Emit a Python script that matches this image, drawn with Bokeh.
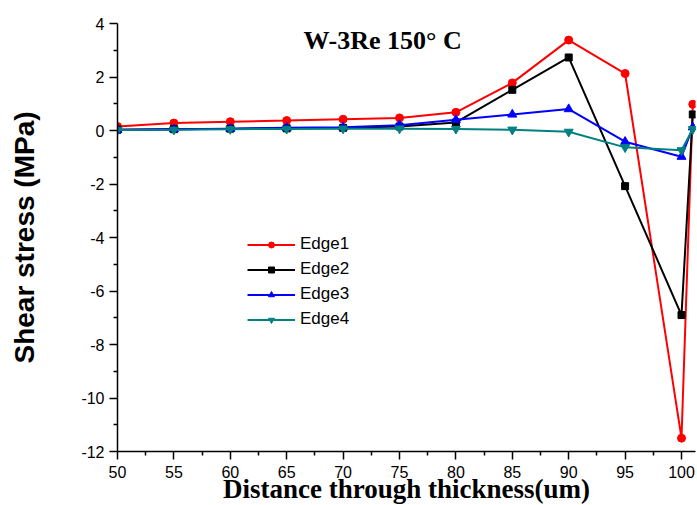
from bokeh.plotting import figure
from bokeh.models import Range1d, Label, Legend, LegendItem, FixedTicker, PrintfTickFormatter
from bokeh.embed import file_html
from bokeh.resources import INLINE

x = [50, 55, 60, 65, 70, 75, 80, 85, 90, 95, 100, 101]
edge1 = [0.15, 0.28, 0.33, 0.37, 0.42, 0.47, 0.68, 1.78, 3.38, 2.13, -11.5, 0.98]
edge2 = [0.03, 0.05, 0.07, 0.08, 0.10, 0.15, 0.30, 1.52, 2.73, -2.08, -6.9, 0.60]
edge3 = [0.03, 0.05, 0.07, 0.10, 0.12, 0.20, 0.40, 0.60, 0.80, -0.42, -0.98, 0.12]
edge4 = [0.02, 0.03, 0.05, 0.06, 0.07, 0.07, 0.06, 0.03, -0.05, -0.63, -0.74, 0.05]

x_ticks = [50, 55, 60, 65, 70, 75, 80, 85, 90, 95, 100]
y_ticks = [-12, -10, -8, -6, -4, -2, 0, 2, 4]

title_text = "W-3Re 150° C"
x_label = "Distance through thickness(um)"
y_label = "Shear stress (MPa)"

p = figure(width=697, height=505, output_backend="svg", toolbar_location=None,
           frame_width=578, frame_height=428,
           x_range=Range1d(50, 50 + 578 / 11.28), y_range=Range1d(-12, 4))
p.min_border_left = 117
p.min_border_right = 2
p.min_border_top = 23
p.min_border_bottom = 54
p.outline_line_color = None
p.xgrid.visible = False
p.ygrid.visible = False
p.background_fill_color = "white"
p.border_fill_color = "white"

for ax in (p.xaxis[0], p.yaxis[0]):
    ax.axis_line_width = 1.5
    ax.axis_line_color = "black"
    ax.major_tick_line_width = 1.5
    ax.minor_tick_line_width = 1.5
    ax.major_tick_out = 8
    ax.major_tick_in = 0
    ax.minor_tick_out = 4
    ax.minor_tick_in = 0
    ax.major_label_text_font = "Liberation Sans"
    ax.major_label_text_font_size = "16px"
    ax.major_label_text_color = "black"
    ax.formatter = PrintfTickFormatter(format="%d")
    ax.axis_label_text_color = "black"
    ax.axis_label_text_font_style = "bold"

p.xaxis.ticker = FixedTicker(ticks=x_ticks, minor_ticks=[52.5 + 5 * i for i in range(10)])
p.yaxis.ticker = FixedTicker(ticks=y_ticks, minor_ticks=[-11, -9, -7, -5, -3, -1, 1, 3])
p.xaxis.major_label_standoff = 6
p.yaxis.major_label_standoff = 5

p.xaxis.axis_label = x_label
p.xaxis.axis_label_text_font = "Liberation Serif"
p.xaxis.axis_label_text_font_size = "27px"
p.xaxis.axis_label_standoff = -7

p.yaxis.axis_label = y_label
p.yaxis.axis_label_text_font = "Liberation Sans"
p.yaxis.axis_label_text_font_size = "28px"
p.yaxis.axis_label_standoff = 38

series = [
    ("Edge1", edge1, "#ff0000", "circle", 8),
    ("Edge2", edge2, "#000000", "square", 7),
    ("Edge3", edge3, "#0000ff", "triangle", 9),
    ("Edge4", edge4, "#008080", "inverted_triangle", 9),
]
items = []
for name, ys, col, mk, sz in series:
    r1 = p.line(x, ys, line_color=col, line_width=2)
    r2 = p.scatter(x, ys, marker=mk, size=sz, fill_color=col, line_color=col)
    items.append(LegendItem(label=name, renderers=[r1, r2]))

leg = Legend(items=items, location=(130, 122), padding=0, margin=0, spacing=5,
             glyph_width=48, glyph_height=15, label_height=15, label_standoff=5,
             label_text_font="Liberation Sans", label_text_font_size="17px",
             label_text_color="black",
             border_line_alpha=0, background_fill_alpha=0)
p.add_layout(leg, "center")

p.add_layout(Label(x=73.5, y=3.35, text=title_text, text_align="center", text_baseline="middle",
                   text_color="black",
                   text_font="Liberation Serif", text_font_style="bold", text_font_size="26px"))

open("out.html", "w").write(file_html(p, INLINE))
